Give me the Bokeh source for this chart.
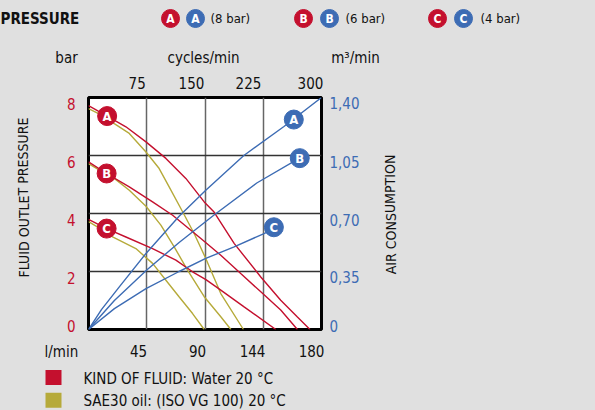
from bokeh.plotting import figure
from bokeh.models import Range1d, LinearAxis, FixedTicker, Grid
from bokeh.layouts import column, row
from bokeh.embed import file_html
from bokeh.resources import INLINE
from bokeh.core.properties import value

FONT = "DejaVu Sans Condensed, Roboto"
BG = "#e0e0e0"
RED = "#c4102e"
BLUE = "#3d6cb4"
OLIVE = "#b6aa3a"
INK = "#111111"

# ---------------- data ----------------
flow_ticks = ["l/min", "45", "90", "144", "180"]   # l/min (bottom row, with unit caption)
cycle_ticks = ["75", "150", "225", "300"]          # cycles/min (top)
bar_ticks = ["8", "6", "4", "2", "0"]              # bar (left)
air_ticks = ["1,40", "1,05", "0,70", "0,35", "0"]  # m3/min (right)

# Fluid outlet pressure (bar) vs flow (l/min) - water 20 °C
water_A_x = [0, 14.4, 28.9, 44.4, 59.8, 75.2, 89.4, 97, 112.5, 133.1, 148.5, 161.4, 171.1]
water_A_y = [7.72, 7.36, 6.99, 6.47, 5.9, 5.21, 4.4, 4.05, 2.97, 1.81, 1.01, 0.43, 0]
water_B_x = [0, 14, 31.5, 49.5, 65, 86.8, 102.2, 117.6, 133.1, 148.5, 161.4]
water_B_y = [5.78, 5.38, 4.92, 4.4, 3.94, 3.14, 2.56, 1.93, 1.3, 0.67, 0]
water_C_x = [0, 14, 28.9, 49.5, 67.5, 80.4, 90.7, 102.2, 120.2, 144.7]
water_C_y = [3.8, 3.48, 3.19, 2.79, 2.39, 1.99, 1.72, 1.36, 0.78, 0]

# SAE30 oil (ISO VG 100) 20 °C
oil_A_x = [0, 14.4, 19.9, 31.5, 44.4, 54.6, 62.3, 72.7, 81.6, 90.6, 102.2, 119.7]
oil_A_y = [7.62, 7.3, 7.1, 6.76, 6.12, 5.55, 4.92, 4.06, 3.31, 2.45, 1.24, 0]
oil_B_x = [0, 14, 19.9, 31.5, 44.4, 55.9, 66.2, 76.5, 89.4, 102.2, 110]
oil_B_y = [5.72, 5.35, 5.21, 4.8, 4.25, 3.6, 2.85, 2.05, 1.13, 0.44, 0]
oil_C_x = [0, 14, 18.6, 36.6, 49.5, 59.8, 70.1, 80.4, 89.4]
oil_C_y = [3.72, 3.35, 3.19, 2.79, 2.28, 1.7, 1.12, 0.55, 0]

# Air consumption (m3/min) vs flow (l/min)
air_A_x = [0, 10, 23.8, 44.4, 70, 90.6, 120, 151, 180]
air_A_y = [0, 0.12, 0.257, 0.459, 0.683, 0.84, 1.05, 1.225, 1.40]
air_B_x = [0, 20, 45, 70, 97, 130, 162]
air_B_y = [0, 0.175, 0.359, 0.525, 0.691, 0.884, 1.03]
air_C_x = [0, 20, 44.4, 70, 90.6, 112.5, 135.6, 141]
air_C_y = [0, 0.126, 0.247, 0.35, 0.429, 0.499, 0.579, 0.6]

curve_letters = ["A", "B", "C"]
pressure_marker_x = [14.4, 14, 14]
pressure_marker_y = [7.36, 5.38, 3.48]
air_marker_x = [158.6, 163.2, 143.2]
air_marker_y = [1.267, 1.034, 0.617]

header_labels = ["(8 bar)", "(6 bar)", "(4 bar)"]
unit_labels = ["bar", "cycles/min", "m³/min"]
left_title = "FLUID OUTLET PRESSURE"
right_title = "AIR CONSUMPTION"
legend_labels = ["KIND OF FLUID: Water 20 °C", "SAE30 oil: (ISO VG 100) 20 °C"]
legend_colors = [RED, OLIVE]

# ---------------- layout geometry (pixels) ----------------
W, H = 595, 410
HEAD_H = 68                  # header strip height
FX, FY, FW, FH = 88, 97, 233, 232   # plot frame on the page
LSTRIP_W = 44
MAIN_R = 45                  # right border of main figure (tick labels)
BOT_TOP = 339
MID_H = BOT_TOP - HEAD_H     # middle row height
MAIN_W = (FX - LSTRIP_W) + FW + MAIN_R
RSTRIP_W = W - LSTRIP_W - MAIN_W
BOT_H = H - BOT_TOP
LEG_TOP = 360


def base_fig(**kw):
    fig = figure(output_backend="svg", toolbar_location=None,
                 x_axis_location=None, y_axis_location=None, frame_align=False, **kw)
    fig.center = [r for r in fig.center if not isinstance(r, Grid)]
    fig.background_fill_color = BG
    fig.border_fill_color = BG
    fig.outline_line_color = None
    return fig


def style_axis(ax, color, standoff):
    ax.axis_line_color = None
    ax.major_tick_line_color = None
    ax.minor_tick_line_color = None
    ax.major_tick_in = 0
    ax.major_tick_out = 0
    ax.major_label_standoff = standoff
    ax.major_label_text_font = FONT
    ax.major_label_text_font_size = "15px"
    ax.major_label_text_color = color


# ---------------- header (title, key, unit captions) ----------------
h = base_fig(width=W, height=HEAD_H, x_range=Range1d(0, W), y_range=Range1d(HEAD_H, 0), min_border=0)
h.text(x=[0], y=[18], text=["PRESSURE"], text_font=value(FONT), text_font_style="bold",
       text_font_size="15px", text_color=INK, text_baseline="middle", text_align="left")
hx_red = [170, 303, 437]
hx_blue = [195, 329, 463]
hx_txt = [210, 345, 480]
h.scatter(x=hx_red, y=[18] * 3, size=18, color=RED)
h.scatter(x=hx_blue, y=[18] * 3, size=18, color=BLUE)
for xs in (hx_red, hx_blue):
    h.text(x=xs, y=[18] * 3, text=curve_letters, text_font=value(FONT), text_font_style="bold",
           text_font_size="12px", text_color="white", text_align="center", text_baseline="middle")
h.text(x=hx_txt, y=[18] * 3, text=header_labels, text_font=value(FONT), text_font_size="13px",
       text_color=INK, text_align="left", text_baseline="middle")
h.text(x=[66, 203, 355], y=[57] * 3, text=unit_labels, text_font=value(FONT), text_font_size="15px",
       text_color=INK, text_align="center", text_baseline="middle")

# ---------------- left strip (vertical title) ----------------
ls = base_fig(width=LSTRIP_W, height=MID_H, x_range=Range1d(0, LSTRIP_W),
              y_range=Range1d(MID_H, 0), min_border=0)
ls.text(x=[23], y=[197 - HEAD_H], text=[left_title], angle=1.5708, text_font=value(FONT),
        text_font_size="14px", text_color=INK, text_align="center", text_baseline="middle")

# ---------------- main chart ----------------
p = base_fig(frame_width=FW, frame_height=FH, x_range=Range1d(0, 180), y_range=Range1d(0, 8),
             min_border_left=FX - LSTRIP_W, min_border_right=MAIN_R, min_border_top=FY - HEAD_H,
             min_border_bottom=MID_H - (FY - HEAD_H) - FH)
p.extra_x_ranges = {"cyc": Range1d(0, 300)}
p.extra_y_ranges = {"air": Range1d(0, 1.40)}
p.background_fill_color = "white"
p.outline_line_color = "black"
p.outline_line_width = 3

p.add_layout(Grid(dimension=0, ticker=FixedTicker(ticks=[45, 90, 135]),
                  grid_line_color="#666666", grid_line_width=1.5))
p.add_layout(Grid(dimension=1, ticker=FixedTicker(ticks=[2, 4, 6]),
                  grid_line_color="#333333", grid_line_width=1.5))

top_pos = [62.7, 132.6, 206.0, 285.8]
left_pos = [7.79, 5.76, 3.76, 1.79, 0.12]
right_pos = [1.364, 1.008, 0.658, 0.314, 0.021]

ax_t = LinearAxis(x_range_name="cyc", ticker=FixedTicker(ticks=top_pos),
                  major_label_overrides=dict(zip(top_pos, cycle_ticks)))
style_axis(ax_t, INK, 9)
p.add_layout(ax_t, "above")

ax_l = LinearAxis(ticker=FixedTicker(ticks=left_pos),
                  major_label_overrides=dict(zip(left_pos, bar_ticks)))
style_axis(ax_l, RED, 13)
p.add_layout(ax_l, "left")

ax_r = LinearAxis(y_range_name="air", ticker=FixedTicker(ticks=right_pos),
                  major_label_overrides=dict(zip(right_pos, air_ticks)))
style_axis(ax_r, BLUE, 8)
p.add_layout(ax_r, "right")

LW = 1.4
for xs, ys in ((oil_A_x, oil_A_y), (oil_B_x, oil_B_y), (oil_C_x, oil_C_y)):
    p.line(xs, ys, line_color=OLIVE, line_width=LW)
for xs, ys in ((water_A_x, water_A_y), (water_B_x, water_B_y), (water_C_x, water_C_y)):
    p.line(xs, ys, line_color=RED, line_width=LW)
for xs, ys in ((air_A_x, air_A_y), (air_B_x, air_B_y), (air_C_x, air_C_y)):
    p.line(xs, ys, line_color=BLUE, line_width=LW, y_range_name="air")

p.scatter(pressure_marker_x, pressure_marker_y, size=19, color=RED)
p.text(pressure_marker_x, pressure_marker_y, text=curve_letters, text_font=value(FONT),
       text_font_style="bold", text_font_size="13px", text_color="white",
       text_align="center", text_baseline="middle")
p.scatter(air_marker_x, air_marker_y, size=19, color=BLUE, y_range_name="air")
p.text(air_marker_x, air_marker_y, text=curve_letters, text_font=value(FONT),
       text_font_style="bold", text_font_size="13px", text_color="white",
       text_align="center", text_baseline="middle", y_range_name="air")

# ---------------- right strip (vertical title) ----------------
rs = base_fig(width=RSTRIP_W, height=MID_H, x_range=Range1d(0, RSTRIP_W),
              y_range=Range1d(MID_H, 0), min_border=0)
rs.text(x=[390 - LSTRIP_W - MAIN_W], y=[214 - HEAD_H], text=[right_title], angle=1.5708,
        text_font=value(FONT), text_font_size="14px", text_color=INK,
        text_align="center", text_baseline="middle")

# ---------------- bottom: flow axis (same scale as the chart) + fluid key ----------------
px_per_flow = FW / 180.0
b = base_fig(width=W, height=BOT_H,
             x_range=Range1d(-FX / px_per_flow, (W - FX) / px_per_flow),
             y_range=Range1d(H - LEG_TOP, 0),
             min_border_left=0, min_border_right=0, min_border_bottom=0,
             min_border_top=LEG_TOP - BOT_TOP)
bottom_pos = [-20.9, 38.6, 84.2, 126.7, 172.3]
ax_b = LinearAxis(ticker=FixedTicker(ticks=bottom_pos),
                  major_label_overrides=dict(zip(bottom_pos, flow_ticks)))
style_axis(ax_b, INK, 3)
b.add_layout(ax_b, "above")

sw_x = [(53 - FX) / px_per_flow] * 2
b.rect(x=sw_x, y=[375 - LEG_TOP, 399 - LEG_TOP], width=16, height=15, width_units="screen",
       height_units="screen", fill_color=legend_colors, line_color=None)
b.text(x=[(83 - FX) / px_per_flow] * 2, y=[377 - LEG_TOP, 400 - LEG_TOP], text=legend_labels,
       text_font=value(FONT), text_font_size="15px", text_color=INK,
       text_align="left", text_baseline="middle")

layout = column(h, row(ls, p, rs, spacing=0), b, spacing=0)
layout.styles = {"background-color": BG}
open("out.html", "w").write(file_html(layout, INLINE))
